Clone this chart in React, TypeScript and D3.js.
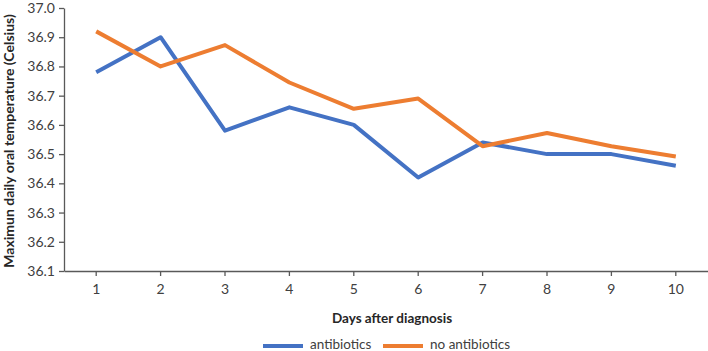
import { useRef, useEffect } from 'react';
import * as d3 from 'd3';

const DAYS = ['1', '2', '3', '4', '5', '6', '7', '8', '9', '10'];
const ANTIBIOTICS = [36.78, 36.9, 36.58, 36.66, 36.6, 36.42, 36.54, 36.5, 36.5, 36.46];
const NO_ANTIBIOTICS = [36.92, 36.8, 36.873, 36.745, 36.655, 36.69, 36.527, 36.572, 36.527, 36.492];
const Y_TICKS = [36.1, 36.2, 36.3, 36.4, 36.5, 36.6, 36.7, 36.8, 36.9, 37.0];

const SERIES = [
  { name: 'antibiotics', values: ANTIBIOTICS, color: '#4472C4' },
  { name: 'no antibiotics', values: NO_ANTIBIOTICS, color: '#ED7D31' },
];

const FONT = 'Lato, "Open Sans", sans-serif';
const AXIS_COLOR = '#595959';

export default function App() {
  const svgRef = useRef<SVGSVGElement>(null);
  const width = 708;
  const height = 351;

  useEffect(() => {
    if (!svgRef.current) return;
    const svg = d3.select(svgRef.current);
    svg.selectAll('*').remove();

    const margin = { top: 8, right: 0, bottom: 80, left: 64 };
    const innerW = width - margin.left - margin.right;
    const innerH = height - margin.top - margin.bottom;

    const x = d3.scaleBand().domain(DAYS).range([0, innerW]);
    const y = d3.scaleLinear().domain([36.1, 37.0]).range([innerH, 0]);

    const g = svg.append('g').attr('transform', 'translate(' + margin.left + ',' + margin.top + ')');

    // Lines
    const line = d3.line<number>()
      .x((_, i) => x(DAYS[i])! + x.bandwidth() / 2)
      .y((d) => y(d));

    SERIES.forEach((s) => {
      g.append('path')
        .datum(s.values)
        .attr('fill', 'none')
        .attr('stroke', s.color)
        .attr('stroke-width', 4)
        .attr('stroke-linejoin', 'round')
        .attr('d', line);
    });

    // Y axis
    const yAxis = g.append('g')
      .call(d3.axisLeft(y).tickValues(Y_TICKS).tickFormat(d3.format('.1f')).tickSize(5).tickSizeOuter(0));
    yAxis.select('.domain').attr('stroke', AXIS_COLOR).attr('stroke-width', 1.3);
    yAxis.selectAll('.tick line').attr('stroke', AXIS_COLOR).attr('stroke-width', 1.3);
    yAxis.selectAll('.tick text')
      .attr('font-family', FONT)
      .attr('font-size', '14px')
      .attr('fill', '#404040')
      .attr('x', -9);

    // X axis
    const xAxis = g.append('g')
      .attr('transform', 'translate(0,' + innerH + ')')
      .call(d3.axisBottom(x).tickSize(5).tickSizeOuter(0));
    xAxis.select('.domain').attr('stroke', AXIS_COLOR).attr('stroke-width', 1.3);
    xAxis.selectAll('.tick line').attr('stroke', AXIS_COLOR).attr('stroke-width', 1.3);
    xAxis.selectAll('.tick text')
      .attr('font-family', FONT)
      .attr('font-size', '14px')
      .attr('fill', '#404040')
      .attr('y', 13);

    // Axis titles
    svg.append('text')
      .attr('x', 392)
      .attr('y', 323)
      .attr('text-anchor', 'middle')
      .attr('font-family', FONT)
      .attr('font-size', '13.5px')
      .attr('font-weight', 'bold')
      .attr('fill', '#262626')
      .text('Days after diagnosis');

    svg.append('text')
      .attr('transform', 'translate(14,141) rotate(-90)')
      .attr('text-anchor', 'middle')
      .attr('font-family', FONT)
      .attr('font-size', '14px')
      .attr('font-weight', 'bold')
      .attr('fill', '#262626')
      .text('Maximun daily oral temperature (Celsius)');

    // Legend
    const legendX = [263, 383];
    SERIES.forEach((s, i) => {
      const lg = svg.append('g').attr('transform', 'translate(' + legendX[i] + ',346)');
      lg.append('line')
        .attr('x1', 0).attr('x2', 40)
        .attr('y1', 0).attr('y2', 0)
        .attr('stroke', s.color)
        .attr('stroke-width', 4);
      lg.append('text')
        .attr('x', 47)
        .attr('y', 0)
        .attr('dominant-baseline', 'middle')
        .attr('font-family', FONT)
        .attr('font-size', '13.5px')
        .attr('fill', '#404040')
        .text(s.name);
    });
  }, []);

  return (
    <svg
      ref={svgRef}
      width={width}
      height={height}
      style={{ position: 'absolute', left: 0, top: 0, background: '#fff' }}
    />
  );
}
